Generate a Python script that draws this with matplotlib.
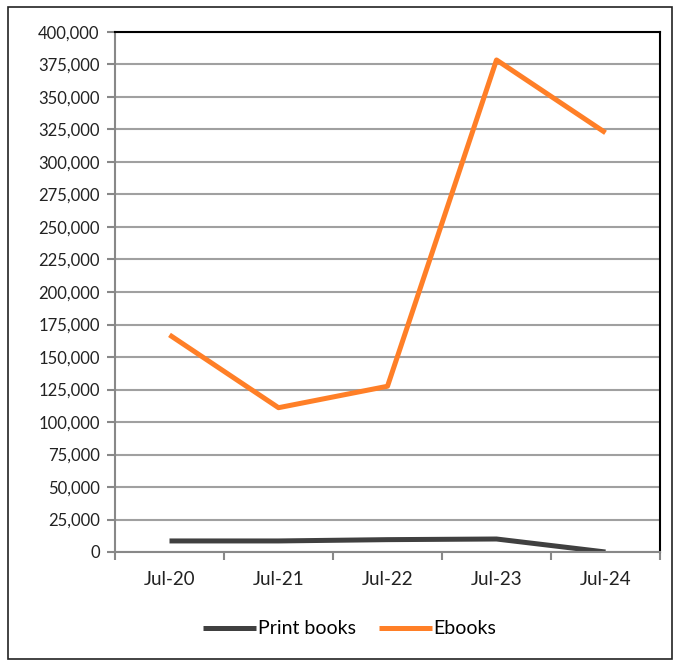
import numpy as np
import matplotlib.pyplot as plt
from matplotlib.patches import Rectangle
from matplotlib.ticker import FuncFormatter

plt.rcParams['font.family'] = ['Lato', 'DejaVu Sans']

# data
months = ["Jul-20", "Jul-21", "Jul-22", "Jul-23", "Jul-24"]
print_books = [8500, 8500, 9500, 10000, 0]
ebooks = [167000, 111000, 127500, 378500, 322500]

W, H = 681, 663
fig = plt.figure(figsize=(W / 100, H / 100), dpi=100)
ax = fig.add_axes([115 / W, 1 - 552 / H, 545 / W, 520 / H])

x = np.arange(len(months))
ax.plot(x, print_books, color='#404040', lw=3.6, label='Print books', solid_capstyle='butt')
ax.plot(x, ebooks, color='#FF7F27', lw=3.6, label='Ebooks', solid_capstyle='butt')

ax.set_xlim(-0.5, len(months) - 0.5)
ax.set_ylim(0, 400000)
ax.set_yticks(np.arange(0, 400001, 25000))
ax.yaxis.set_major_formatter(FuncFormatter(lambda v, p: f"{int(v):,}"))
ax.set_xticks(x)
ax.set_xticklabels(months)
ax.set_xticks(np.arange(-0.5, len(months)), minor=True)
ax.tick_params(axis='x', which='major', length=0, pad=14, labelsize=13.5, colors='#222222')
ax.tick_params(axis='x', which='minor', length=6, width=1.5, color='#888888')
ax.tick_params(axis='y', length=6, width=1.5, color='#888888', labelsize=12,
               labelcolor='#222222', pad=5)

ax.grid(axis='y', color='#a0a0a0', lw=1.5)
ax.set_axisbelow(True)
for s in ['left', 'bottom']:
    ax.spines[s].set_color('#888888')
    ax.spines[s].set_linewidth(1.5)
for s in ['top', 'right']:
    ax.spines[s].set_color('black')
    ax.spines[s].set_linewidth(1.5)

fig.legend(loc='center', bbox_to_anchor=(350 / W, 1 - 629 / H), ncol=2, frameon=False,
           fontsize=14, handlelength=2.7, handletextpad=0.1, columnspacing=1.2)

# outer chart frame
fig.patches.append(Rectangle((8 / W, 4 / H), 664 / W, 652 / H, transform=fig.transFigure,
                             fill=False, edgecolor='#222222', lw=1.2))

fig.savefig('out.png', dpi=100)
